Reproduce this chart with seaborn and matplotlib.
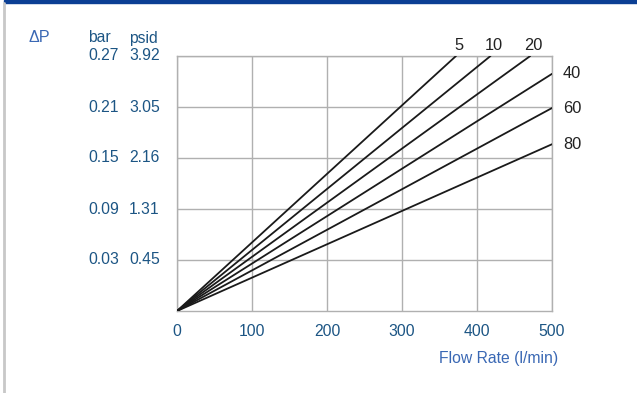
import matplotlib
matplotlib.use("Agg")
import matplotlib.pyplot as plt
import seaborn as sns
import pandas as pd
from matplotlib.patches import Rectangle
from matplotlib.lines import Line2D

sns.set_theme(style="white")
plt.rcParams["font.family"] = ["Liberation Sans", "DejaVu Sans"]

# Pressure-drop scale: grid rows 1..5 carry paired bar / psid labels
grid_rows = [1, 2, 3, 4, 5]
bar_labels = ["0.03", "0.09", "0.15", "0.21", "0.27"]
psid_labels = ["0.45", "1.31", "2.16", "3.05", "3.92"]
flow_ticks = [0, 100, 200, 300, 400, 500]

# Each curve runs straight from the origin to its end point (flow, grid row)
curve_names = ["5", "10", "20", "40", "60", "80"]
end_flow = [372, 418, 471, 500, 500, 500]
end_dp = [5.0, 5.0, 5.0, 4.65, 3.98, 3.27]

rows = []
for name, fx, dy in zip(curve_names, end_flow, end_dp):
    rows.append({"curve": name, "flow": 0, "dp": 0.0})
    rows.append({"curve": name, "flow": fx, "dp": dy})
df = pd.DataFrame(rows)

W, H = 637, 393
fig = plt.figure(figsize=(W / 100, H / 100), dpi=100)
x0, x1, ytop, ybot = 177, 552, 56, 311
ax = fig.add_axes([x0 / W, (H - ybot) / H, (x1 - x0) / W, (ybot - ytop) / H])

sns.lineplot(data=df, x="flow", y="dp", hue="curve", palette=["#1a1a1a"] * len(curve_names),
             legend=False, ax=ax, linewidth=1.3, zorder=3)

ax.set_xlim(0, 500)
ax.set_ylim(0, 5)
ax.set_xticks(flow_ticks)
ax.set_yticks(grid_rows)
ax.set_yticklabels([])
ax.grid(True, color="#b0b0b0", linewidth=1.0)
for s in ax.spines.values():
    s.set_color("#b0b0b0")
    s.set_linewidth(1.0)
ax.set_xlabel("")
ax.set_ylabel("")

tick_color = "#1c5584"
head_color = "#3a68b4"
fs = 11.3
ax.tick_params(axis="x", length=0, pad=9.5, labelsize=fs, labelcolor=tick_color)
ax.tick_params(axis="y", length=0)

ytr = ax.get_yaxis_transform()
for r, b, p in zip(grid_rows, bar_labels, psid_labels):
    ax.text((88 - x0) / (x1 - x0), r, b, transform=ytr, ha="left", va="center",
            fontsize=fs, color=tick_color)
    ax.text((129 - x0) / (x1 - x0), r, p, transform=ytr, ha="left", va="center",
            fontsize=fs, color=tick_color)

hy = (ybot - 38) / (ybot - ytop)
ax.text((28 - x0) / (x1 - x0), hy, "ΔP", transform=ax.transAxes, ha="left", va="center",
        fontsize=fs + 0.3, color=head_color)
ax.text((88 - x0) / (x1 - x0), hy, "bar", transform=ax.transAxes, ha="left", va="center",
        fontsize=fs, color=tick_color)
ax.text((129 - x0) / (x1 - x0), hy, "psid", transform=ax.transAxes, ha="left", va="center",
        fontsize=fs, color=tick_color)

ax.text((558 - x0) / (x1 - x0), (ybot - 358) / (ybot - ytop), "Flow Rate (l/min)",
        transform=ax.transAxes, ha="right", va="center", fontsize=fs, color=head_color)

# Curve labels: above the top edge for steep curves, right of the frame otherwise
for name, fx, dy in zip(curve_names, end_flow, end_dp):
    if dy >= 5.0:
        ax.annotate(name, (fx, dy), xytext=(3, 3), textcoords="offset pixels",
                    ha="center", va="bottom", fontsize=fs + 0.5, color="#222222",
                    annotation_clip=False)
    else:
        ax.annotate(name, (fx, dy), xytext=(11, 0), textcoords="offset pixels",
                    ha="left", va="center", fontsize=fs + 0.5, color="#222222",
                    annotation_clip=False)

# Page frame: blue band on top, grey rule on the left
fig.patches.append(Rectangle((4 / W, (H - 3) / H), 1, 3 / H, transform=fig.transFigure,
                             color="#0b3f94", zorder=0))
fig.lines.append(Line2D([4 / W, 4 / W], [0, (H - 3) / H], transform=fig.transFigure,
                        color="#c8c8c8", linewidth=2))

fig.savefig("out.png", dpi=100)
